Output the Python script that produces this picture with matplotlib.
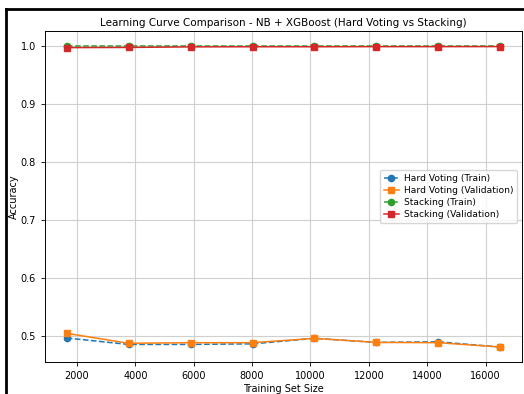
import numpy as np
import matplotlib
matplotlib.use("Agg")
import matplotlib.pyplot as plt
from matplotlib.lines import Line2D

train_sizes = [1650, 3771, 5893, 8014, 10136, 12257, 14379, 16500]

hard_train = [0.4966, 0.4855, 0.4855, 0.4865, 0.4960, 0.4890, 0.4900, 0.4810]
hard_val = [0.5046, 0.4875, 0.4885, 0.4885, 0.4960, 0.4890, 0.4885, 0.4810]
stack_train = [1.0, 1.0, 1.0, 1.0, 1.0, 1.0, 1.0, 1.0]
stack_val = [0.9975, 0.9978, 0.9988, 0.9990, 0.9990, 0.9992, 0.9992, 0.9993]

fig = plt.figure(figsize=(5.24, 3.94), dpi=100)
ax = fig.add_axes([0.086, 0.081, 0.910, 0.840])

fs = 7
ax.plot(train_sizes, hard_train, 'o--', color='tab:blue', lw=1.1, ms=4.5, label='Hard Voting (Train)')
ax.plot(train_sizes, hard_val, 's-', color='tab:orange', lw=1.1, ms=4.5, label='Hard Voting (Validation)')
ax.plot(train_sizes, stack_train, 'o--', color='tab:green', lw=1.1, ms=4.5, label='Stacking (Train)')
ax.plot(train_sizes, stack_val, 's-', color='tab:red', lw=1.1, ms=4.5, label='Stacking (Validation)')

ax.set_title('Learning Curve Comparison - NB + XGBoost (Hard Voting vs Stacking)', fontsize=7.5, pad=4)
ax.set_xlabel('Training Set Size', fontsize=fs, labelpad=2)
ax.set_ylabel('Accuracy', fontsize=fs, labelpad=1)
ax.tick_params(labelsize=fs, length=3, width=0.6)
ax.set_xticks(range(2000, 16001, 2000))
ax.grid(True, color='#d0d0d0', lw=0.8)
for s in ax.spines.values():
    s.set_linewidth(0.7)
ax.legend(loc='center right', fontsize=6.6, handlelength=1.6, handletextpad=0.6,
          borderpad=0.4, labelspacing=0.35)

# screenshot-style frame on top and left
fig.add_artist(Line2D([0.011, 0.011], [0, 0.977], color='black', lw=2, transform=fig.transFigure))
fig.add_artist(Line2D([0.011, 1.0], [0.977, 0.977], color='black', lw=2, transform=fig.transFigure))

fig.savefig('out.png', dpi=100)
